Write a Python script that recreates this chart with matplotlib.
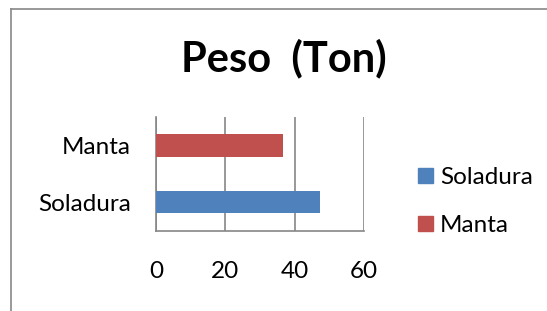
import matplotlib
matplotlib.use("Agg")
import matplotlib.pyplot as plt
from matplotlib.patches import Patch
from matplotlib.lines import Line2D

categories = ["Soladura", "Manta"]
values = [47.3, 36.5]
colors = ["#4F81BD", "#C0504D"]
xticks = [0, 20, 40, 60]
title = "Peso  (Ton)"

plt.rcParams['font.family'] = ['Lato', 'DejaVu Sans']

W, H = 547, 311
fig = plt.figure(figsize=(W/100, H/100), dpi=100)
ax = fig.add_axes([156/W, 1-230.5/H, (364-156)/W, (230.5-117)/H])

ax.barh(range(len(categories)), values, height=0.4, color=colors, zorder=3)
ax.set_xlim(0, 60)
ax.set_ylim(-0.5, 1.5)
ax.set_xticks(xticks)
ax.set_xticklabels([str(t) for t in xticks], fontsize=17.5)
ax.set_yticks(range(len(categories)))
ax.set_yticklabels(categories, fontsize=17.5)
ax.tick_params(axis='x', length=0, pad=22)
ax.tick_params(axis='y', length=0, pad=18)
ax.grid(axis='x', color='#868686', linewidth=1.2, zorder=1)
for s in ['top', 'right']:
    ax.spines[s].set_visible(False)
for s in ['left', 'bottom']:
    ax.spines[s].set_color('#868686')
    ax.spines[s].set_linewidth(1.2)

fig.text(284/W, 1-58/H, title, fontsize=30, fontweight='bold', ha='center', va='center')

handles = [Patch(color=c, label=l) for c, l in zip(colors, categories)]
leg = fig.legend(handles=handles, loc='center left', bbox_to_anchor=(418/W, 1-201.5/H),
                 frameon=False, fontsize=17.5, handlelength=0.6, handleheight=0.6,
                 handletextpad=0.3, labelspacing=1.1, borderpad=0, borderaxespad=0)

fig.add_artist(Line2D([10.5/W, 10.5/W], [0, 1-9/H], color='#888888', lw=1.2))
fig.add_artist(Line2D([10.5/W, 1], [1-9/H, 1-9/H], color='#888888', lw=1.2))

fig.savefig("out.png", dpi=100)
